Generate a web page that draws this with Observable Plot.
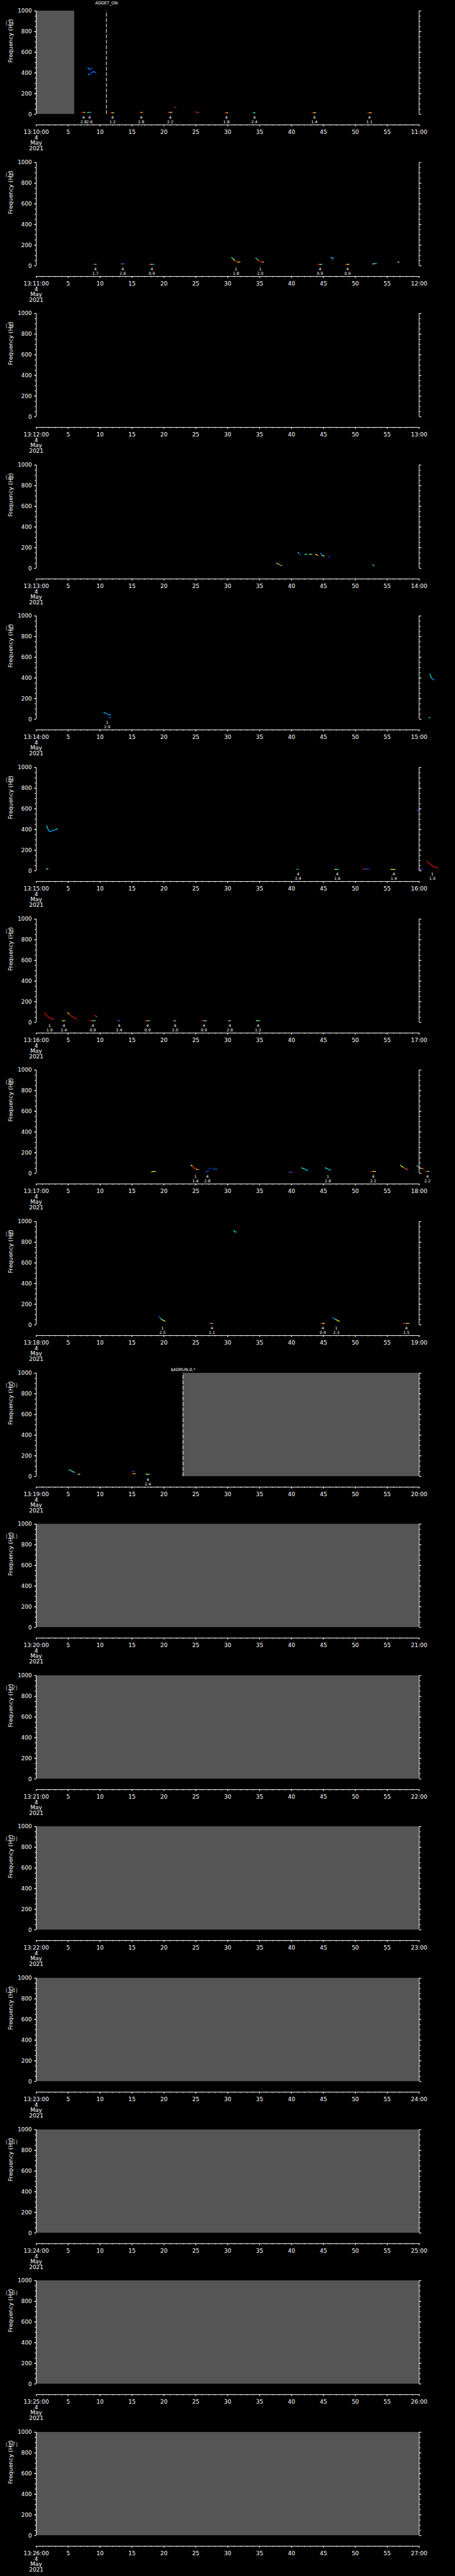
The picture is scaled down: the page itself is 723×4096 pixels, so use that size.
<!DOCTYPE html>
<html><head><meta charset="utf-8">
<script src="https://cdn.jsdelivr.net/npm/d3@7"></script>
<script src="https://cdn.jsdelivr.net/npm/@observablehq/plot@0.6"></script>
<style>
html,body{margin:0;padding:0;background:#000;}
#root{position:relative;width:723px;height:4096px;background:#000;overflow:hidden}
.panel{position:absolute;left:0;width:723px;}
</style></head><body><div id="root"></div>
<script>
// ---- data ----
const startLabels = ["13:10:00","13:11:00","13:12:00","13:13:00","13:14:00","13:15:00","13:16:00","13:17:00","13:18:00","13:19:00","13:20:00","13:21:00","13:22:00","13:23:00","13:24:00","13:25:00","13:26:00"];
const endLabels = ["11:00","12:00","13:00","14:00","15:00","16:00","17:00","18:00","19:00","20:00","21:00","22:00","23:00","24:00","25:00","26:00","27:00"];
const dateLines = ["4","May","2021"];
const xTicks = [0,5,10,15,20,25,30,35,40,45,50,55,60];
const xMinorTicks = d3.range(0, 61, 1);
const yTicks = [0,200,400,600,800,1000];
const yMinorTicks = d3.range(0, 1001, 50);

// data gaps (grey): panel, start s, end s
const gaps = [[1,0,6],[10,23,60],[11,0,60],[12,0,60],[13,0,60],[14,0,60],[15,0,60],[16,0,60],[17,0,60]];
// command markers: panel, time s, text, label height (Hz)
const markers = [[1,11,"ADDET_ON",1077],[10,23,"$ADRUN,0,*",1036]];

// detected traces: panel, [[t s, f Hz, intensity 0..1], ...]
const traces = [
 [1,[[7.16,19,.85],[7.4,19,.7],[7.63,19,.6]]],
 [1,[[8.04,19,.45],[8.3,19,.3],[8.62,19,.05]]],
 [1,[[8.1,444,.3],[8.28,444,.15],[8.32,428,.05],[8.5,428,.05],[8.55,444,.1],[8.72,444,.2]]],
 [1,[[8.18,387,.3],[8.39,382,.1],[8.55,398,.1],[8.78,408,.2],[9.02,413,.1],[9.32,405,.25]]],
 [1,[[11.64,14,.85],[11.9,14,.6],[12.22,14,.05]]],
 [1,[[16.2,19,.85],[16.45,19,.65],[16.68,19,.75]]],
 [1,[[20.68,19,.8],[20.95,19,.6],[21.3,19,.15]]],
 [1,[[21.67,67,.8],[21.88,67,.05]]],
 [1,[[25.0,23,.85],[25.15,19,.8],[25.5,19,.05]]],
 [1,[[29.6,14,.85],[29.85,14,.6],[30.08,14,.05]]],
 [1,[[33.98,14,.45],[34.37,14,.05]]],
 [1,[[43.24,14,.8],[43.55,14,.6],[43.87,14,.05]]],
 [1,[[51.94,14,.8],[52.25,14,.6],[52.57,14,.1]]],
 [2,[[9.0,14,.8],[9.2,14,.4],[9.48,14,.05]]],
 [2,[[13.26,19,.85],[13.5,19,.2],[13.84,19,.05]]],
 [2,[[17.73,14,.85],[18.0,14,.6],[18.2,14,.3],[18.52,14,.05]]],
 [2,[[30.6,80,.35],[30.9,66,.6],[31.15,47,.95],[31.4,37,.8],[31.6,37,.6],[32.0,36,.05]]],
 [2,[[34.41,76,.35],[34.71,57,.7],[34.94,47,.95],[35.24,37,.85],[35.45,37,.6],[35.7,36,.05]]],
 [2,[[44.1,14,.8],[44.45,14,.5],[44.85,14,.05]]],
 [2,[[46.19,80,.3],[46.45,79,.3],[46.5,61,.1]]],
 [2,[[48.43,14,.85],[48.75,14,.6],[49.1,14,.05]]],
 [2,[[52.73,19,.6],[53.05,20,.3],[53.38,23,.05]]],
 [2,[[56.67,36,.6],[56.92,36,.1]]],
 [4,[[37.63,51,.45],[37.9,42,.65],[38.1,36,.75],[38.3,30,.35],[38.55,25,.1]]],
 [4,[[41.05,154,.3],[41.2,140,.1],[41.46,133,.05]]],
 [4,[[42.1,136,.45],[42.4,136,.3]]],
 [4,[[42.8,136,.5],[43.2,136,.3]]],
 [4,[[43.75,136,.6],[43.95,130,.7],[44.1,123,.6]]],
 [4,[[44.6,145,.2],[44.75,128,.3],[44.9,122,.6],[45.1,120,.55]]],
 [4,[[45.75,114,.05],[45.96,114,.1]]],
 [4,[[52.7,33,.4],[52.96,27,.3]]],
 [5,[[10.6,67,.3],[10.8,60,.2],[11.0,52,.15],[11.3,45,.25],[11.6,40,.2]]],
 [5,[[11.45,16,.1],[11.6,16,.2]]],
 [5,[[61.7,437,.4],[61.85,410,.3],[62.0,395,.2],[62.3,381,.25]]],
 [5,[[61.5,16,.3],[61.7,16,.2]]],
 [6,[[1.6,436,.35],[1.75,420,.3],[1.85,400,.25],[2.1,379,.2],[2.75,393,.25],[3.1,400,.3],[3.35,407,.25]]],
 [6,[[1.58,19,.5],[1.83,19,.45]]],
 [6,[[59.66,586,.1],[59.87,586,.05]]],
 [6,[[40.84,14,.3],[41.13,14,.1]]],
 [6,[[46.8,14,.6],[47.1,14,.4],[47.4,14,.15]]],
 [6,[[51.17,19,.85],[51.6,16,.1],[52.17,19,.05]]],
 [6,[[55.6,14,.6],[56.3,14,.1]]],
 [6,[[59.8,18,.85],[60.1,14,.1],[60.5,14,.05]]],
 [6,[[61.25,90,.9],[61.5,75,.9],[61.8,60,.9],[62.1,47,.9],[62.4,37,.9],[62.7,31,.85],[62.9,29,.1]]],
 [7,[[1.3,90,.9],[1.5,75,.9],[1.8,58,.9],[2.1,45,.9],[2.4,36,.85],[2.6,33,.8],[2.75,33,.1]]],
 [7,[[4.12,16,.6],[4.54,16,.1]]],
 [7,[[4.95,93,.6],[5.2,78,.9],[5.5,62,.9],[5.9,46,.9],[6.29,36,.8]]],
 [7,[[9.2,67,.85],[9.35,62,.85],[9.5,54,.3]]],
 [7,[[8.45,16,.85],[8.85,16,.5],[9.28,16,.1]]],
 [7,[[12.82,16,.2],[13.07,16,.05]]],
 [7,[[17.07,16,.85],[17.4,16,.5],[17.78,16,.15]]],
 [7,[[21.57,16,.5],[21.9,16,.1]]],
 [7,[[25.9,16,.85],[26.3,16,.5],[26.73,16,.05]]],
 [7,[[30.14,16,.6],[30.47,16,.1]]],
 [7,[[34.47,16,.5],[35.05,16,.25]]],
 [8,[[18.07,14,.65],[18.3,19,.6],[18.78,19,.05]]],
 [8,[[24.27,79,.6],[24.5,66,.85],[24.8,50,.8],[25.1,40,.65],[25.44,36,.25]]],
 [8,[[26.56,19,.1],[27.02,19,.05]]],
 [8,[[27.06,49,.05],[27.4,49,.1]]],
 [8,[[27.73,43,.1],[28.23,40,.3]]],
 [8,[[39.59,10,.1],[39.9,10,.8],[40.2,10,.05]]],
 [8,[[41.6,53,.4],[41.9,46,.35],[42.2,36,.3],[42.6,26,.05]]],
 [8,[[45.3,53,.4],[45.6,45,.35],[45.9,36,.3],[46.13,31,.2]]],
 [8,[[52.4,19,.85],[52.8,19,.6],[53.25,19,.05]]],
 [8,[[57.08,79,.5],[57.3,66,.6],[57.6,55,.85],[57.9,44,.7],[58.24,36,.05]]],
 [8,[[59.66,74,.4],[59.9,60,.85],[60.2,52,.7],[60.6,43,.35]]],
 [8,[[60.95,19,.85],[61.3,19,.5],[61.66,19,.05]]],
 [9,[[30.97,914,.4],[31.1,900,.3],[31.39,900,.1]]],
 [9,[[19.19,81,.15],[19.45,66,.3],[19.7,50,.6],[19.95,43,.55],[20.23,36,.35]]],
 [9,[[27.18,14,.8],[27.45,14,.5],[27.73,14,.05]]],
 [9,[[44.63,14,.8],[44.9,14,.6],[45.21,14,.1]]],
 [9,[[46.46,74,.1],[46.7,62,.35],[47.0,50,.6],[47.25,42,.6],[47.5,36,.55]]],
 [9,[[57.5,14,.85],[58.0,14,.5],[58.53,14,.05]]],
 [10,[[5.14,64,.3],[5.4,58,.3],[5.6,50,.55],[5.85,43,.3],[6.12,39,.1]]],
 [10,[[6.58,21,.6],[6.88,21,.1]]],
 [10,[[15.04,50,.1],[15.34,50,.85]]],
 [10,[[15.04,26,.85],[15.3,26,.6],[15.5,26,.55]]],
 [10,[[17.2,21,.6],[17.5,21,.45],[17.82,21,.1]]]
];

// event annotations: panel, time s, class, value
const labels = [
 [1,7.42,"4","2.8"],[1,8.35,"4","2.6"],[1,11.94,"4","1.2"],[1,16.44,"4","2.8"],[1,21.0,"4","2.2"],
 [1,29.8,"4","1.8"],[1,34.18,"4","2.4"],[1,43.57,"4","1.4"],[1,52.2,"4","1.1"],
 [2,9.25,"4","1.7"],[2,13.56,"4","2.8"],[2,18.12,"4","0.9"],[2,31.29,"1","1.8"],[2,35.1,"1","2.0"],
 [2,44.46,"4","0.9"],[2,48.79,"4","0.9"],
 [5,11.12,"1","2.9"],
 [6,41.05,"4","2.4"],[6,47.17,"4","1.6"],[6,56.04,"4","1.4"],[6,62.07,"1","1.9"],
 [7,2.08,"1","1.9"],[7,4.33,"4","2.4"],[7,8.87,"4","0.9"],[7,12.99,"4","2.4"],[7,17.44,"4","0.9"],
 [7,21.77,"4","2.0"],[7,26.27,"4","0.9"],[7,30.35,"4","2.8"],[7,34.76,"4","1.2"],
 [8,24.94,"1","1.4"],[8,26.81,"4","2.8"],[8,45.7,"1","2.8"],[8,52.8,"4","2.2"],[8,61.3,"4","2.2"],
 [9,19.78,"1","2.5"],[9,27.52,"4","1.1"],[9,44.92,"4","0.9"],[9,47.0,"1","2.3"],[9,57.99,"4","1.5"],
 [10,17.5,"4","2.4"]
];

// ---- drawing ----
const S = 0.705;
const W = 723, H = 241;
const STEP = 5802 * S / 17;
const Y_MIN = -103; // bottom of frame where the time axis sits
const jet = d3.piecewise(d3.interpolateRgb, ["#0000ff","#00a0ff","#00ffc0","#ffff00","#ff2000","#b00000"]);
const FONT = "DejaVu Sans";

function panel(p) {
  const g = gaps.filter(d => d[0] === p).map(d => ({t0: d[1], t1: d[2]}));
  const m = markers.filter(d => d[0] === p).map(d => ({t: d[1], text: d[2], hz: d[3]}));
  const tr = traces.filter(d => d[0] === p);
  const segs = [], pts = [];
  tr.forEach(([, ps]) => {
    ps.forEach(q => pts.push({t: q[0], f: q[1], v: q[2]}));
    for (let i = 0; i < ps.length - 1; i++)
      segs.push({t1: ps[i][0], f1: ps[i][1], t2: ps[i+1][0], f2: ps[i+1][1], v: ps[i][2]});
  });
  const labs = labels.filter(d => d[0] === p).map(d => ({t: d[1], n: d[2], s: d[3]}));
  const fmt = t => t === 0 ? [startLabels[p-1], ...dateLines].join("\n")
                 : t === 60 ? endLabels[p-1] : String(t);
  return Plot.plot({
    width: W, height: H,
    marginLeft: 81 * S, marginRight: W - 944 * S,
    marginTop: 24 * S, marginBottom: H - 281 * S,
    style: {background: "#000", color: "#fff", fontFamily: FONT, overflow: "visible"},
    x: {domain: [0, 60]},
    y: {domain: [Y_MIN, 1000]},
    color: {type: "identity"},
    marks: [
      Plot.rect(g, {x1: "t0", x2: "t1", y1: 0, y2: 1000, fill: "#555555"}),
      Plot.ruleX(m, {x: "t", y1: 0, y2: 1000, stroke: "#fff", strokeWidth: 1, strokeDasharray: "6,2.6"}),
      Plot.text(m, {x: "t", y: "hz", text: "text", fill: "#fff", fontSize: 6.5}),
      Plot.link(segs, {x1: "t1", y1: "f1", x2: "t2", y2: "f2", stroke: d => jet(d.v), strokeWidth: 1.2}),
      Plot.dot(pts, {x: "t", y: "f", fill: d => jet(d.v), r: 0.7, symbol: "square"}),
      Plot.text(labs, {x: "t", y: 0, text: d => d.n + "\n" + d.s, lineAnchor: "top", dy: 2.8,
        fontSize: 6.3, lineHeight: 1.05, fill: "#fff"}),
      Plot.ruleX([0, 60], {y1: 0, y2: 1000, stroke: "#fff", strokeWidth: 1}),
      Plot.ruleY([Y_MIN], {x1: 0, x2: 60, stroke: "#fff", strokeWidth: 1}),
      Plot.axisY(yMinorTicks, {anchor: "left", tickSize: 2, tickFormat: () => "", label: null, stroke: "#fff"}),
      Plot.axisY(yTicks, {anchor: "left", tickSize: 3, tickPadding: 4, tickFormat: d => String(d), fontSize: 8.8, label: null, stroke: "#fff", fill: "#fff"}),
      Plot.axisY(yMinorTicks, {anchor: "right", tickSize: 2, tickFormat: () => "", label: null, stroke: "#fff"}),
      Plot.axisY(yTicks, {anchor: "right", tickSize: 3, tickFormat: () => "", label: null, stroke: "#fff"}),
      Plot.axisX(xMinorTicks, {anchor: "bottom", tickSize: 1.6, tickFormat: () => "", label: null, stroke: "#fff"}),
      Plot.axisX(xTicks, {anchor: "bottom", tickSize: 2.8, tickPadding: 5.9, tickFormat: fmt, fontSize: 9,
        lineHeight: 0.94, label: null, stroke: "#fff", fill: "#fff"}),
      Plot.text([500], {y: d => d, frameAnchor: "left", dx: -(81 - 23) * S, rotate: -90,
        text: () => "Frequency (Hz)", fontSize: 9.2, fill: "#fff"}),
      Plot.text([`(${p})`], {frameAnchor: "top-left", dx: (11.7 - 81) * S, dy: (47 - 24) * S,
        textAnchor: "start", text: d => d, fontSize: 9.5, fill: "#b4b4b4"})
    ]
  });
}

const root = document.getElementById("root");
for (let p = 1; p <= 17; p++) {
  const div = document.createElement("div");
  div.className = "panel";
  div.style.top = ((p - 1) * STEP) + "px";
  div.appendChild(panel(p));
  root.appendChild(div);
}
</script></body></html>
